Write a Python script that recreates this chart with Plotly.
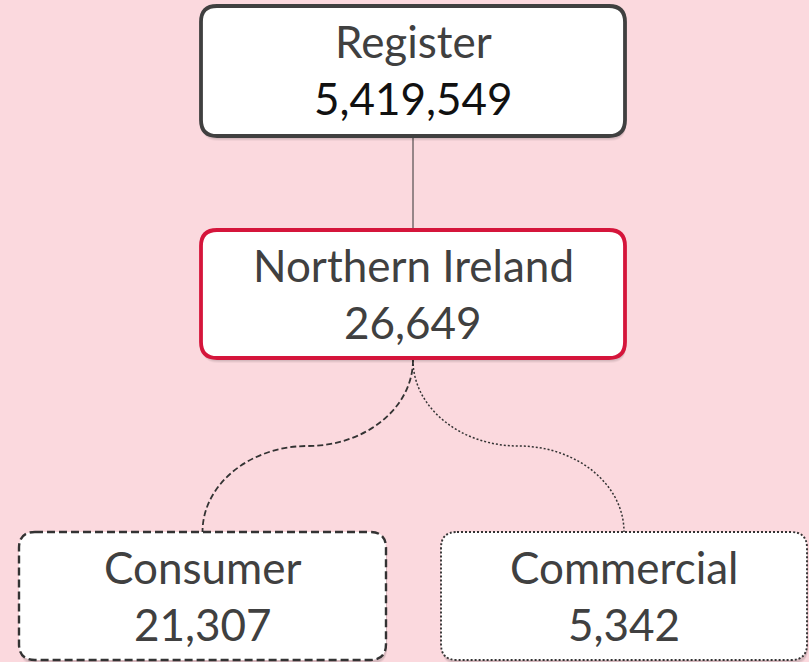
import plotly.graph_objects as go

# ---- data ----
names = ["Register", "Northern Ireland", "Consumer", "Commercial"]
values = [5419549, 26649, 21307, 5342]
parents = [None, "Register", "Northern Ireland", "Northern Ireland"]

# ---- layout / style (pixel space of the canvas) ----
W, H = 809, 662
BG = "#FBD9DE"
node_geom = {
    "Register": dict(x0=201, x1=625, y0=6, y1=136),
    "Northern Ireland": dict(x0=201, x1=625, y0=230, y1=358),
    "Consumer": dict(x0=19, x1=386, y0=532, y1=660),
    "Commercial": dict(x0=441, x1=807, y0=532, y1=660),
}
node_style = {
    "Register": dict(color="#404040", width=3.8, dash="solid", num_color="#111111"),
    "Northern Ireland": dict(color="#D5153B", width=3.8, dash="solid", num_color="#404040"),
    "Consumer": dict(color="#333333", width=2.4, dash="8px,4px", num_color="#404040"),
    "Commercial": dict(color="#333333", width=1.9, dash="2px,2px", num_color="#404040"),
}
link_style = {
    "Northern Ireland": dict(color="#333333", width=1, dash="solid"),
    "Consumer": dict(color="#333333", width=1.8, dash="6px,3px"),
    "Commercial": dict(color="#333333", width=1.5, dash="2px,2px"),
}
FONT = "Lato, Calibri, sans-serif"
FS = 44
R = 16
K = 0.552


def rrect(x0, y0, x1, y1, r):
    return (f"M {x0+r} {y0} L {x1-r} {y0} Q {x1} {y0} {x1} {y0+r} "
            f"L {x1} {y1-r} Q {x1} {y1} {x1-r} {y1} L {x0+r} {y1} "
            f"Q {x0} {y1} {x0} {y1-r} L {x0} {y0+r} Q {x0} {y0} {x0+r} {y0} Z")


shapes = []
annotations = []

# links
for name, parent in zip(names, parents):
    if parent is None:
        continue
    p = node_geom[parent]
    c = node_geom[name]
    px = (p["x0"] + p["x1"]) / 2
    cx = (c["x0"] + c["x1"]) / 2
    py = p["y1"] + 2
    cy = c["y0"]
    st = link_style[name]
    if abs(px - cx) < 1:
        path = f"M {px} {py} L {cx} {cy}"
    else:
        mx = (px + cx) / 2
        my = (py + cy) / 2
        path = (f"M {px} {py} C {px} {py + K*(my-py)}, {mx + K*(px-mx)} {my}, {mx} {my} "
                f"C {mx + K*(cx-mx)} {my}, {cx} {cy - K*(cy-my)}, {cx} {cy}")
    shapes.append(dict(type="path", xref="x", yref="y", path=path,
                       line=dict(color=st["color"], width=st["width"], dash=st["dash"]),
                       layer="below"))

# boxes
for name, val in zip(names, values):
    g = node_geom[name]
    st = node_style[name]
    # soft shadow
    for k, a in [(5, 0.04), (4, 0.05), (3, 0.06)]:
        shapes.append(dict(type="path", xref="x", yref="y",
                           path=rrect(g["x0"] + 1, g["y0"] + k, g["x1"] + 1, g["y1"] + k, R),
                           fillcolor=f"rgba(0,0,0,{a})", line=dict(width=0)))
    shapes.append(dict(type="path", xref="x", yref="y",
                       path=rrect(g["x0"], g["y0"], g["x1"], g["y1"], R),
                       fillcolor="white",
                       line=dict(color=st["color"], width=st["width"], dash=st["dash"])))
    cxm = (g["x0"] + g["x1"]) / 2
    annotations.append(dict(x=cxm, y=g["y0"] + 35, xref="x", yref="y", text=name,
                            showarrow=False, font=dict(family=FONT, size=FS, color="#404040")))
    annotations.append(dict(x=cxm, y=g["y0"] + 92, xref="x", yref="y", text=f"{val:,}",
                            showarrow=False, font=dict(family=FONT, size=FS, color=st["num_color"])))

fig = go.Figure()
fig.update_layout(
    width=W, height=H,
    margin=dict(l=0, r=0, t=0, b=0),
    paper_bgcolor=BG, plot_bgcolor=BG,
    xaxis=dict(range=[0, W], visible=False, fixedrange=True),
    yaxis=dict(range=[H, 0], visible=False, fixedrange=True),
    shapes=shapes,
    annotations=annotations,
    showlegend=False,
)
fig.write_html("out.html", config={"displayModeBar": False},
               post_script="document.body.style.margin='0';document.body.style.overflow='hidden';")
